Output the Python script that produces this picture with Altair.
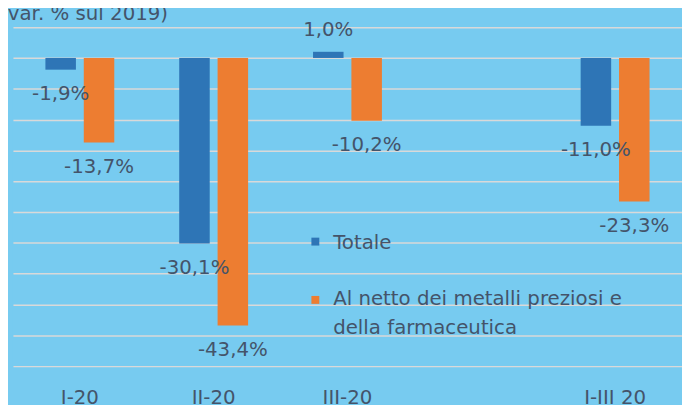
import altair as alt
import pandas as pd

categories = ["I-20", "II-20", "III-20", " ", "I-III 20"]
series = ["Totale", "Al netto dei metalli preziosi e della farmaceutica"]
totale = [-1.9, -30.1, 1.0, None, -11.0]
al_netto = [-13.7, -43.4, -10.2, None, -23.3]
title_text = "(var. % sul 2019)"

rows = []
for c, t, a in zip(categories, totale, al_netto):
    if t is not None:
        rows.append({"cat": c, "serie": series[0], "value": t})
    if a is not None:
        rows.append({"cat": c, "serie": series[1], "value": a})
df = pd.DataFrame(rows)
df["label"] = df["value"].map(lambda v: f"{v:.1f}%".replace(".", ","))

BG = "#77CBF0"
TXT = "#44546A"
colors = ["#2E75B6", "#ED7D31"]
FONT = "DejaVu Sans"

x_enc = alt.X("cat:N", sort=categories, scale=alt.Scale(domain=categories, paddingInner=0, paddingOuter=0),
              axis=alt.Axis(title=None, labelFontSize=20, labelColor=TXT, labelFont=FONT, domain=False,
                            ticks=False, labelPadding=22, labelAngle=0, grid=False))
xoff = alt.XOffset("serie:N", sort=series, scale=alt.Scale(domain=series, paddingInner=0.205, paddingOuter=0.846))
y_scale = alt.Scale(domain=[-50, 5], nice=False, zero=False)

base = alt.Chart(df)

bars = base.mark_bar(stroke=None).encode(
    x=x_enc,
    xOffset=xoff,
    y=alt.Y("value:Q", scale=y_scale,
            axis=alt.Axis(title=None, labels=False, ticks=False, domain=False, grid=True,
                          values=list(range(-50, 6, 5)), gridColor="#D9D9D9", gridWidth=1.5)),
    y2=alt.datum(0),
    color=alt.Color("serie:N", sort=series, scale=alt.Scale(domain=series, range=colors), legend=None),
)

lab_neg = base.transform_filter("datum.value < 0").mark_text(
    fontSize=20, font=FONT, color=TXT, baseline="middle", dy=25
).encode(x=alt.X("cat:N", sort=categories), xOffset=xoff, y=alt.Y("value:Q", scale=y_scale), text="label:N")

lab_pos = base.transform_filter("datum.value >= 0").mark_text(
    fontSize=20, font=FONT, color=TXT, baseline="middle", dy=-22
).encode(x=alt.X("cat:N", sort=categories), xOffset=xoff, y=alt.Y("value:Q", scale=y_scale), text="label:N")

leg_df = pd.DataFrame({"serie": series, "txt": ["Totale", "Al netto dei metalli preziosi e\ndella farmaceutica"],
                       "row": [0, 1]})
leg_sq = alt.Chart(leg_df).mark_square(size=64, opacity=1).encode(
    x=alt.value(306),
    y=alt.Y("row:Q", scale=alt.Scale(domain=[0, 1], range=[217, 276]), axis=None),
    color=alt.Color("serie:N", scale=alt.Scale(domain=series, range=colors), legend=None),
)
leg_tx = alt.Chart(leg_df).mark_text(
    fontSize=20, font=FONT, color=TXT, align="left", baseline="alphabetic", lineBreak="\n", lineHeight=29
).encode(
    x=alt.value(324),
    y=alt.Y("row:Q", scale=alt.Scale(domain=[0, 1], range=[224, 281]), axis=None),
    text="txt:N",
)

title = alt.Chart(pd.DataFrame({"t": [title_text]})).mark_text(
    fontSize=20, font=FONT, color=TXT, align="left", baseline="alphabetic"
).encode(x=alt.value(-13), y=alt.value(-7), text="t:N")

chart = alt.layer(bars, lab_neg, lab_pos, leg_sq, leg_tx, title).resolve_scale(y="independent").properties(
    width=677, height=343,
    autosize=alt.AutoSizeParams(type="none"),
    padding={"left": 5, "top": 17, "right": 0, "bottom": 40},
    background=BG,
).configure_view(stroke=None, fill=BG)

chart.save("out.html", embed_options={"renderer": "svg", "actions": False})
